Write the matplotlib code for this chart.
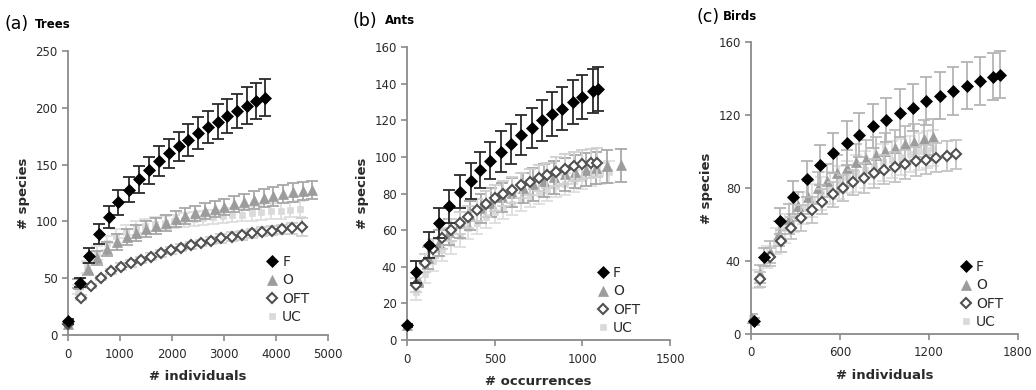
# Species accumulation curves for three taxa (Trees, Ants, Birds)
# in four habitat types: F, O, OFT, UC

import matplotlib.pyplot as plt

# --------------------------- Data ---------------------------
# (a) Trees
trees_F_x = [0, 224, 404, 590, 782, 962, 1167, 1359, 1551, 1750, 1936, 2128, 2314, 2506, 2692, 2885, 3064, 3256, 3442, 3622, 3782]
trees_F_y = [12, 46, 70, 89, 104, 117, 128, 137, 145, 153, 160, 166, 172, 178, 183, 188, 193, 197, 202, 206, 209]
trees_F_err = [2, 4, 7, 9, 10, 11, 11, 12, 12, 13, 13, 13, 14, 14, 14, 15, 15, 15, 16, 16, 16]

trees_O_x = [0, 188, 376, 564, 752, 940, 1128, 1316, 1504, 1692, 1880, 2068, 2256, 2444, 2632, 2820, 3008, 3196, 3384, 3572, 3760, 3948, 4136, 4324, 4512, 4700]
trees_O_y = [10, 45, 58, 68, 76, 82, 86, 90, 93, 96, 99, 102, 105, 107, 109, 111, 113, 115, 117, 119, 120.5, 122, 124, 125.5, 127, 128]
trees_O_err = [1, 4, 5, 6, 6, 7, 7, 7, 7, 7, 7, 7, 7, 7, 7, 7, 7, 7, 7, 8, 8, 8, 8, 8, 8, 8]

trees_OFT_x = [0, 250, 443, 636, 829, 1022, 1215, 1408, 1601, 1794, 1987, 2180, 2373, 2566, 2759, 2952, 3145, 3338, 3531, 3724, 3917, 4110, 4303, 4496]
trees_OFT_y = [10, 33, 43, 50, 56, 60, 63, 66, 69, 72, 74.5, 77, 79, 81, 83, 85, 86.5, 88, 89.5, 91, 92, 93, 94, 95]
trees_OFT_err = [1, 2, 2, 2, 2, 3, 3, 3, 3, 3, 3, 3, 3, 3, 3, 4, 4, 4, 4, 4, 4, 4, 5, 8]

trees_UC_x = [0, 186, 372, 558, 744, 930, 1116, 1302, 1488, 1674, 1860, 2046, 2232, 2418, 2604, 2790, 2976, 3162, 3348, 3534, 3720, 3906, 4092, 4278, 4464]
trees_UC_y = [10, 40, 60, 72, 81, 87, 91, 94, 96, 98, 99, 100, 101, 102, 103, 104, 104.5, 105.5, 106, 107, 108, 109, 109.5, 110.5, 111]
trees_UC_err = [1, 4, 5, 6, 6, 6, 6, 6, 6, 6, 6, 6, 6, 6, 6, 6, 6, 6, 6, 7, 7, 7, 7, 7, 7]

# (b) Ants
ants_F_x = [0, 53, 123, 180, 241, 304, 365, 418, 475, 537, 594, 651, 712, 767, 826, 883, 944, 1000, 1058, 1088]
ants_F_y = [8, 37, 52, 64, 73, 81, 87, 93, 98, 103, 107, 112, 116, 120, 123.5, 126.5, 130, 133, 136, 137]
ants_F_err = [1, 6, 7, 8, 9, 9, 10, 10, 10, 11, 11, 11, 11, 11, 12, 12, 12, 12, 12, 12]

ants_O_x = [0, 60, 120, 180, 240, 300, 360, 420, 480, 540, 600, 660, 720, 780, 840, 900, 960, 1020, 1080, 1140, 1220]
ants_O_y = [8, 33, 45, 53, 59, 64, 68, 72, 75, 78, 80.5, 83, 85, 87, 89, 90.5, 92, 93, 94, 95, 95.5]
ants_O_err = [1, 4, 6, 7, 7, 8, 8, 8, 8, 8, 8, 8, 9, 9, 9, 9, 9, 9, 9, 9, 9]

ants_OFT_x = [50, 100, 150, 200, 250, 300, 350, 400, 450, 500, 550, 600, 650, 700, 750, 800, 850, 900, 950, 1000, 1050, 1084]
ants_OFT_y = [30, 42, 50, 55.5, 60, 64, 67.5, 71, 74.5, 77.5, 80, 82, 84.5, 86.5, 88.5, 90, 92, 93.5, 95, 96, 96.5, 97]
ants_OFT_err = [4, 5, 5, 6, 6, 6, 6, 6, 7, 7, 7, 7, 7, 7, 7, 7, 8, 8, 8, 8, 8, 8]

ants_UC_x = [0, 50, 100, 150, 200, 250, 300, 350, 400, 450, 500, 550, 600, 650, 700, 750, 800, 850, 900, 950, 1000, 1050, 1100, 1150]
ants_UC_y = [8, 26, 36, 43, 49, 53, 57, 61, 64, 67, 70, 72, 74.5, 76.5, 78.5, 80.5, 82, 84, 85.5, 87, 88.5, 90, 91, 92]
ants_UC_err = [1, 4, 5, 5, 6, 6, 6, 6, 6, 6, 6, 6, 6, 6, 6, 6, 6, 6, 6, 6, 6, 6, 6, 6]

# (c) Birds
birds_F_x = [18, 85, 193, 280, 377, 466, 556, 646, 728, 820, 910, 1004, 1089, 1183, 1273, 1363, 1453, 1542, 1632, 1677]
birds_F_y = [7, 42, 62, 75, 85, 92.5, 99, 104.5, 109, 114, 117, 121, 124, 127.5, 130.5, 133, 136, 138.5, 141, 142]
birds_F_err = [2, 5, 7, 9, 10, 11, 11, 12, 12, 12, 12, 13, 13, 13, 13, 13, 13, 13, 13, 13]

birds_O_x = [10, 60, 125, 190, 255, 320, 385, 450, 515, 580, 645, 710, 775, 840, 905, 970, 1035, 1100, 1165, 1230]
birds_O_y = [9, 33, 45, 55, 63, 70, 75, 80, 84, 88, 91, 94, 96, 98, 100, 102, 104, 105, 107, 108]
birds_O_err = [2, 5, 6, 7, 8, 8, 9, 9, 9, 10, 10, 10, 10, 10, 10, 10, 10, 10, 10, 10]

birds_OFT_x = [63, 130, 200, 270, 340, 410, 480, 550, 620, 690, 760, 830, 900, 970, 1040, 1110, 1180, 1250, 1320, 1381]
birds_OFT_y = [30, 42, 51, 58, 63.5, 68, 72.5, 76.5, 80, 83, 85.5, 88, 90, 91.5, 93, 94.5, 95.5, 96.5, 97.5, 98.5]
birds_OFT_err = [4, 5, 6, 6, 7, 7, 7, 7, 7, 7, 8, 8, 8, 8, 8, 8, 8, 8, 8, 8]

birds_UC_x = [10, 50, 110, 170, 230, 290, 350, 410, 470, 530, 590, 650, 710, 770, 830, 890, 950, 1010, 1070, 1130, 1190, 1230]
birds_UC_y = [9, 30, 42, 51, 58, 64, 69, 73, 77, 80, 83, 86, 88, 90, 92, 94, 95.5, 97, 98.5, 100, 101, 102]
birds_UC_err = [2, 5, 6, 7, 8, 8, 9, 9, 9, 9, 9, 9, 10, 10, 10, 10, 10, 10, 10, 10, 10, 10]

# --------------------------- Style ---------------------------
plt.rcParams['font.family'] = ['DejaVu Sans']
AXIS_COL = '#8a8a8a'
TEXT_COL = '#2a2a2a'

series_style = {
    'F':   dict(marker='D', ms=6.5, mfc='black', mec='black', mew=0.5, z=5),
    'O':   dict(marker='^', ms=7, mfc='#9c9c9c', mec='#9c9c9c', mew=0.5, z=3),
    'OFT': dict(marker='D', ms=4.8, mfc='white', mec='#505050', mew=1.5, z=4),
    'UC':  dict(marker='s', ms=5, mfc='#dadada', mec='#dadada', mew=0.5, z=2),
}


def draw_panel(ax, data, err_cols, xlim, xticks, ylim, yticks, xlabel, leg_anchor):
    for name in ['UC', 'O', 'OFT', 'F']:
        x, y, e = data[name]
        st = series_style[name]
        ax.errorbar(x, y, yerr=e, fmt='none', ecolor=err_cols[name], elinewidth=1.3,
                    capsize=4.5, capthick=1.3, zorder=st['z'] - 0.5)
        ax.plot(x, y, linestyle='none', marker=st['marker'], ms=st['ms'],
                mfc=st['mfc'], mec=st['mec'], mew=st['mew'], zorder=st['z'], label=name,
                clip_on=False)
    ax.set_xlim(*xlim)
    ax.set_ylim(*ylim)
    ax.set_xticks(xticks)
    ax.set_yticks(yticks)
    for s in ['top', 'right']:
        ax.spines[s].set_visible(False)
    for s in ['left', 'bottom']:
        ax.spines[s].set_color(AXIS_COL)
        ax.spines[s].set_linewidth(1.3)
    ax.tick_params(direction='out', length=4, width=1.2, color=AXIS_COL,
                   labelsize=8.5, labelcolor=TEXT_COL)
    ax.tick_params(axis='x', pad=5)
    ax.set_xlabel(xlabel, fontsize=9.5, fontweight='bold', color=TEXT_COL, labelpad=7)
    ax.set_ylabel('# species', fontsize=9.5, fontweight='bold', color=TEXT_COL, labelpad=4)
    # legend in the same order as the original: F, O, OFT, UC
    h, l = ax.get_legend_handles_labels()
    order = [l.index(n) for n in ['F', 'O', 'OFT', 'UC']]
    ax.legend([h[i] for i in order], [l[i] for i in order], loc='center left',
              bbox_to_anchor=leg_anchor, frameon=False, fontsize=10, handlelength=0.8,
              handletextpad=0.3, labelspacing=0.3, borderpad=0, borderaxespad=0,
              labelcolor=TEXT_COL)


fig = plt.figure(figsize=(10.36, 3.9), dpi=100)
ax_a = fig.add_axes([0.0656, 0.141, 0.251, 0.728])
ax_b = fig.add_axes([0.3929, 0.128, 0.2539, 0.751])
ax_c = fig.add_axes([0.7249, 0.1436, 0.2577, 0.749])

dark_err = {'F': '#2a2a2a', 'O': '#a8a8a8', 'OFT': '#d0d0d0', 'UC': '#dedede'}
light_err = {'F': '#b4b4b4', 'O': '#bcbcbc', 'OFT': '#c4c4c4', 'UC': '#dedede'}

draw_panel(ax_a,
           {'F': (trees_F_x, trees_F_y, trees_F_err), 'O': (trees_O_x, trees_O_y, trees_O_err),
            'OFT': (trees_OFT_x, trees_OFT_y, trees_OFT_err), 'UC': (trees_UC_x, trees_UC_y, trees_UC_err)},
           dark_err, (0, 5000), [0, 1000, 2000, 3000, 4000, 5000], (0, 250), [0, 50, 100, 150, 200, 250],
           '# individuals', (0.765, 0.16))

draw_panel(ax_b,
           {'F': (ants_F_x, ants_F_y, ants_F_err), 'O': (ants_O_x, ants_O_y, ants_O_err),
            'OFT': (ants_OFT_x, ants_OFT_y, ants_OFT_err), 'UC': (ants_UC_x, ants_UC_y, ants_UC_err)},
           dark_err, (0, 1500), [0, 500, 1000, 1500], (0, 160), [0, 20, 40, 60, 80, 100, 120, 140, 160],
           '# occurrences', (0.725, 0.135))

draw_panel(ax_c,
           {'F': (birds_F_x, birds_F_y, birds_F_err), 'O': (birds_O_x, birds_O_y, birds_O_err),
            'OFT': (birds_OFT_x, birds_OFT_y, birds_OFT_err), 'UC': (birds_UC_x, birds_UC_y, birds_UC_err)},
           light_err, (0, 1800), [0, 600, 1200, 1800], (0, 160), [0, 40, 80, 120, 160],
           '# individuals', (0.785, 0.135))

# panel titles: "(a)" regular + taxon name in bold
panel_titles = [('(a)', 'Trees', 5, 35, 24), ('(b)', 'Ants', 352, 385, 21), ('(c)', 'Birds', 696, 723, 17)]
for tag, name, xt, xn, yc in panel_titles:
    fig.text(xt / 1036, 1 - yc / 390, tag, fontsize=12.5, color='black', va='center', ha='left')
    fig.text(xn / 1036, 1 - yc / 390, name, fontsize=8.5, fontweight='bold', color='black',
             va='center', ha='left')

fig.savefig('out.png', dpi=100)
